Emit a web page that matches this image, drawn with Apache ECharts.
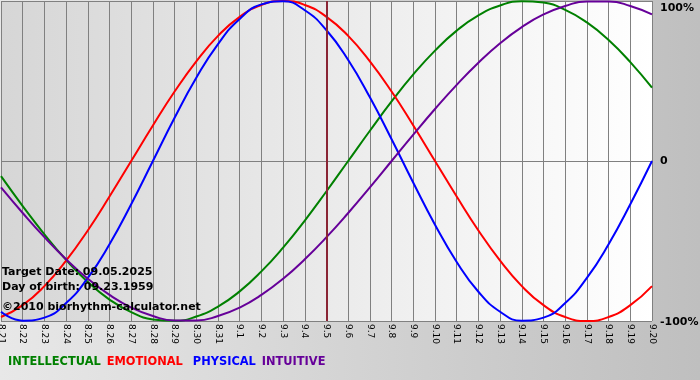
<!DOCTYPE html>
<html>
<head>
<meta charset="utf-8">
<script src="https://cdn.jsdelivr.net/npm/echarts@6/dist/echarts.min.js"></script>
<style>
  html, body { margin: 0; padding: 0; background: #d0d0d0; }
  #chart { width: 700px; height: 380px; }
</style>
</head>
<body>
<div id="chart"></div>
<script>
var categories = ['8.21','8.22','8.23','8.24','8.25','8.26','8.27','8.28','8.29','8.30','8.31',
  '9.1','9.2','9.3','9.4','9.5','9.6','9.7','9.8','9.9','9.10','9.11','9.12','9.13','9.14',
  '9.15','9.16','9.17','9.18','9.19','9.20'];
var intellectual = [-9.5,-28.2,-45.8,-61.8,-75.6,-86.6,-94.5,-99.0,-99.9,-97.2,-91.0,-81.5,-69.0,-54.1,-37.2,-18.9,
  0,18.9,37.2,54.1,69.0,81.5,91.0,97.2,99.9,99.0,94.5,86.6,75.6,61.8,45.8];
var emotional = [-97.5,-90.1,-78.2,-62.3,-43.4,-22.2,0,22.2,43.4,62.3,78.2,90.1,97.5,100,97.5,90.1,
  78.2,62.3,43.4,22.2,0,-22.2,-43.4,-62.3,-78.2,-90.1,-97.5,-100,-97.5,-90.1,-78.2];
var physical = [-94.2,-99.8,-97.9,-88.8,-73.1,-52.0,-27.0,0,27.0,52.0,73.1,88.8,97.9,99.8,94.2,81.7,
  63.1,39.8,13.6,-13.6,-39.8,-63.1,-81.7,-94.2,-99.8,-97.9,-88.8,-73.1,-52.0,-27.0,0];
var intuitive = [-16.5,-32.5,-47.6,-61.4,-73.6,-83.7,-91.6,-96.9,-99.7,-99.7,-96.9,-91.6,-83.7,-73.6,-61.4,-47.6,
  -32.5,-16.5,0,16.5,32.5,47.6,61.4,73.6,83.7,91.6,96.9,99.7,99.7,96.9,91.6];
var seriesNames = ['INTELLECTUAL','EMOTIONAL','PHYSICAL','INTUITIVE'];
var seriesColors = ['#008000','#ff0000','#0000ff','#660099'];
var targetDay = '9.5';
var infoLines = ['Target Date: 09.05.2025','Day of birth: 09.23.1959','\u00a92010 biorhythm-calculator.net'];
var yTickLabels = {'100':'100%','0':'0','-100':'-100%'};

var font = '"DejaVu Sans", Verdana, sans-serif';
var chart = echarts.init(document.getElementById('chart'), null, {renderer:'canvas'});
var seriesData = [intellectual, emotional, physical, intuitive];
var series = seriesNames.map(function (n, i) {
  return {
    name: n, type: 'line', data: seriesData[i], smooth: 0.5, showSymbol: false, symbol: 'none',
    lineStyle: { color: seriesColors[i], width: 2 }, itemStyle: { color: seriesColors[i] },
    animation: false, z: 3
  };
});
series[0].markLine = {
  silent: true, symbol: ['none','none'], label: { show: false },
  lineStyle: { color: '#8a2535', width: 2, type: 'solid' },
  data: [{ xAxis: targetDay }], animation: false
};

var legendPad = [[0,0,0,0],[0,0,0,0],[0,0,0,4],[0,0,0,0]];

var option = {
  backgroundColor: new echarts.graphic.LinearGradient(0, 0, 1, 0, [
    { offset: 0, color: '#e8e8e8' }, { offset: 1, color: '#bfbfbf' }
  ]),
  animation: false,
  grid: {
    left: 1, top: 1, width: 651, height: 320, show: true, borderWidth: 0,
    containLabel: false, outerBoundsMode: 'none',
    backgroundColor: new echarts.graphic.LinearGradient(0, 0, 1, 0, [
      { offset: 0, color: '#d6d6d6' }, { offset: 1, color: '#ffffff' }
    ])
  },
  legend: {
    left: 3, top: 357, icon: 'none', itemWidth: 0, itemHeight: 0, itemGap: 1, padding: 0,
    selectedMode: false,
    textStyle: { fontFamily: font, fontWeight: 'bold', fontSize: 11.4 },
    data: seriesNames.map(function (n, i) {
      return { name: n, textStyle: { color: seriesColors[i], padding: legendPad[i] } };
    })
  },
  xAxis: {
    type: 'category', data: categories, boundaryGap: false,
    axisLine: { show: false },
    axisTick: { show: true, length: 4, interval: 0, lineStyle: { color: '#808080' } },
    axisLabel: { interval: 0, rotate: -90, margin: 3, fontFamily: font, fontSize: 9, color: '#000' },
    splitLine: { show: true, interval: 0, lineStyle: { color: '#808080', width: 1 } }
  },
  yAxis: {
    type: 'value', position: 'right', min: -100, max: 100, interval: 100,
    axisLine: { show: false }, axisTick: { show: false },
    splitLine: { show: true, lineStyle: { color: '#808080', width: 1 } },
    axisLabel: {
      margin: 8, fontFamily: font, fontWeight: 'bold', fontSize: 11, color: '#000',
      formatter: function (v) {
        var t = yTickLabels[String(v)];
        return v === 100 ? '{top|' + t + '}' : (v === -100 ? '{bot|' + t + '}' : t);
      },
      rich: {
        top: { fontFamily: font, fontWeight: 'bold', fontSize: 11, color: '#000', padding: [15, 0, 0, 0] },
        bot: { fontFamily: font, fontWeight: 'bold', fontSize: 11, color: '#000', padding: [2, 0, 0, 0] }
      }
    }
  },
  graphic: [
    { type: 'text', x: 2, y: 272, z: 100, style: { text: infoLines[0], font: 'bold 11px ' + font, fill: '#000', verticalAlign: 'middle' } },
    { type: 'text', x: 2, y: 287.5, z: 100, style: { text: infoLines[1], font: 'bold 11px ' + font, fill: '#000', verticalAlign: 'middle' } },
    { type: 'text', x: 2, y: 307, z: 100, style: { text: infoLines[2], font: 'bold 11px ' + font, fill: '#000', verticalAlign: 'middle' } }
  ],
  series: series
};
chart.setOption(option);
</script>
</body>
</html>
